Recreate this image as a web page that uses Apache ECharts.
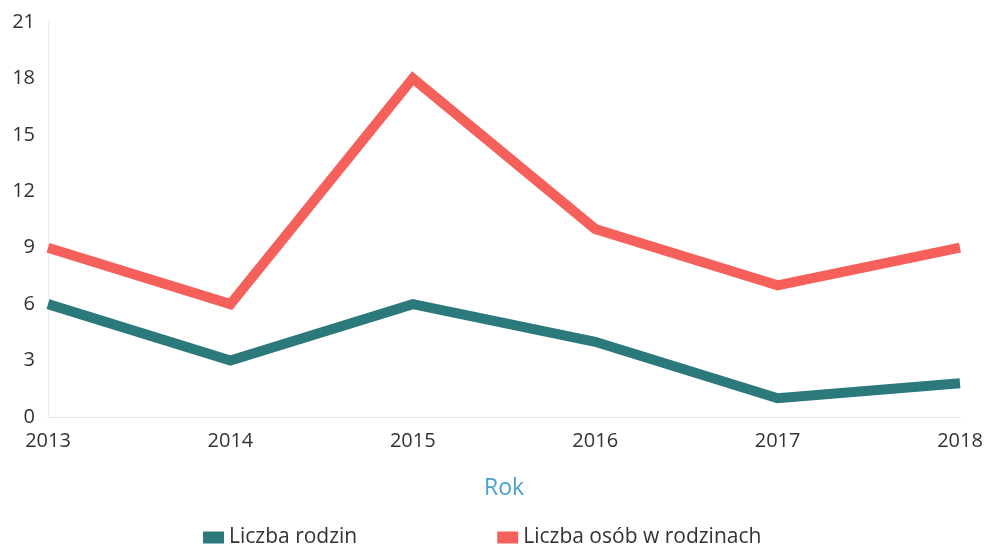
<!DOCTYPE html>
<html lang="pl">
<head>
    <meta charset="UTF-8">
    <title>Rodziny</title>
    <script src="https://cdn.jsdelivr.net/npm/echarts@6/dist/echarts.min.js"></script>
</head>
<body style="margin:0;background:#fff">
<div id="main" style="width:986px;height:551px"></div>
<script type="text/javascript">
    // dane z wykresu
    var lata = ['2013', '2014', '2015', '2016', '2017', '2018'];
    var liczbaRodzin = [6, 3, 6, 4, 1, 1.8];
    var liczbaOsob = [9, 6, 18, 10, 7, 9];

    var myChart = echarts.init(document.getElementById('main'));
    var font = '"Open Sans", "Noto Sans", sans-serif';

    var option = {
        animation: false,
        textStyle: {fontFamily: font},
        grid: {left: 48, right: 26, top: 22, bottom: 134, containLabel: false},
        legend: {
            left: 198,
            top: 522,
            itemWidth: 21,
            itemHeight: 12,
            itemGap: 140,
            icon: 'rect',
            textStyle: {fontSize: 21, color: '#333', fontFamily: font},
            data: ['Liczba rodzin', 'Liczba osób w rodzinach']
        },
        xAxis: {
            type: 'category',
            boundaryGap: false,
            data: lata,
            name: 'Rok',
            nameLocation: 'middle',
            nameGap: 60,
            nameTextStyle: {fontSize: 23, color: '#4a9fd0', fontFamily: font},
            axisLine: {lineStyle: {color: '#dbe6ef', width: 1}},
            axisTick: {show: false},
            axisLabel: {fontSize: 20, color: '#333', margin: 14, fontFamily: font}
        },
        yAxis: {
            type: 'value',
            min: 0,
            max: 21,
            interval: 3,
            axisLine: {show: true, lineStyle: {color: '#e3ebf3', width: 1}},
            axisTick: {show: false},
            splitLine: {show: false},
            axisLabel: {fontSize: 20, color: '#333', margin: 13, fontFamily: font}
        },
        series: [
            {
                name: 'Liczba rodzin',
                type: 'line',
                data: liczbaRodzin,
                symbol: 'none',
                color: '#2b797b',
                lineStyle: {width: 10, color: '#2b797b', join: 'miter'}
            },
            {
                name: 'Liczba osób w rodzinach',
                type: 'line',
                data: liczbaOsob,
                symbol: 'none',
                color: '#f5605a',
                lineStyle: {width: 10, color: '#f5605a', join: 'miter'}
            }
        ]
    };
    myChart.setOption(option);
</script>
</body>
</html>
